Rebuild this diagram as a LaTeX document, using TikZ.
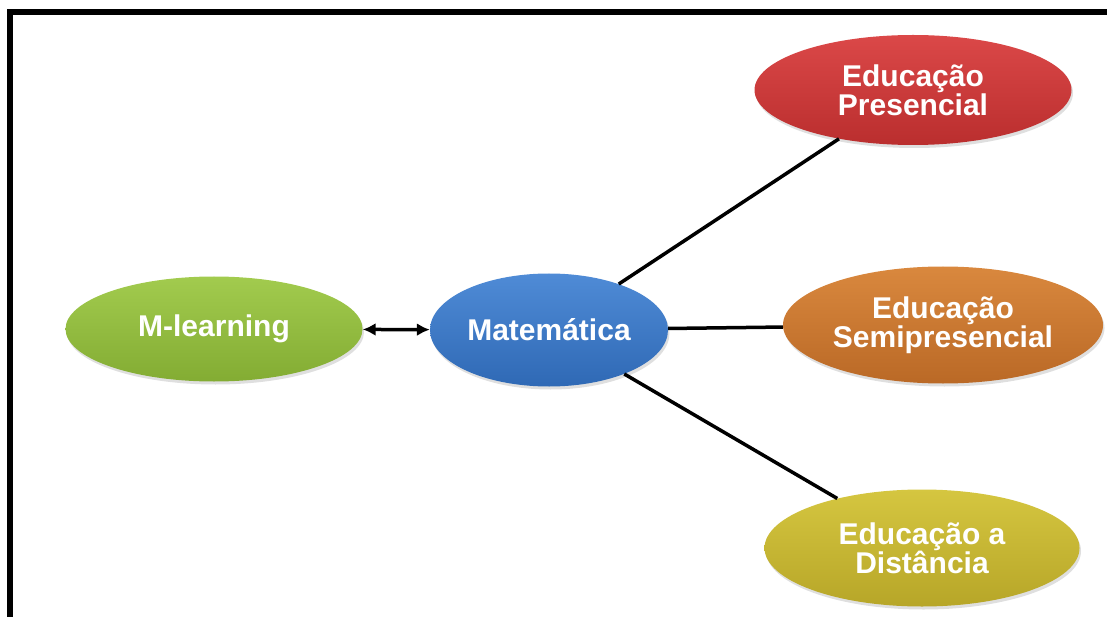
\documentclass[tikz,border=0pt]{standalone}
\usepackage{fontspec}
\setmainfont{Liberation Sans}
\usepackage{xcolor}
\usetikzlibrary{arrows.meta,shapes.geometric,shadows}
\definecolor{limetop}{HTML}{A2CB4E}
\definecolor{limebot}{HTML}{83AC33}
\definecolor{bluetop}{HTML}{4F8BD6}
\definecolor{bluebot}{HTML}{2F69B5}
\definecolor{redtop}{HTML}{DB4848}
\definecolor{redbot}{HTML}{BA2E2E}
\definecolor{orangetop}{HTML}{D9883E}
\definecolor{orangebot}{HTML}{BA6926}
\definecolor{oliventop}{HTML}{D5C640}
\definecolor{olivenbot}{HTML}{B7A628}

\begin{document}
\begin{tikzpicture}[x=1pt,y=-1pt,>=Latex,
  bubble/.style={ellipse,inner sep=0pt,align=center,text=white,
    font=\fontsize{30}{29}\selectfont\bfseries,
    drop shadow={opacity=0.25,shadow xshift=1.5pt,shadow yshift=-3pt}},
  link/.style={line width=3.5pt,color=black}]
  \useasboundingbox (0,0) rectangle (1107,617);
  \draw[line width=6pt] (10,617) -- (10,12) -- (1107,12);
  \node[bubble,minimum width=297pt,minimum height=105pt,top color=limetop,bottom color=limebot] (mlearn) at (214,329) {M-learning};
  \node[bubble,minimum width=238pt,minimum height=113pt,top color=bluetop,bottom color=bluebot] (mat) at (549,330) {Matemática};
  \node[bubble,minimum width=317pt,minimum height=110pt,top color=redtop,bottom color=redbot] (pres) at (913,90) {Educação\\Presencial};
  \node[bubble,minimum width=320pt,minimum height=117pt,top color=orangetop,bottom color=orangebot] (semi) at (943,325) {Educação\\Semipresencial};
  \node[bubble,minimum width=315pt,minimum height=117pt,top color=oliventop,bottom color=olivenbot] (dist) at (922,548) {Educação a\\Distância};
  \draw[link,{Latex[length=13pt,width=13pt]}-{Latex[length=13pt,width=13pt]}] (mlearn) -- (mat);
  \draw[link] (mat) -- (pres);
  \draw[link] (mat) -- (semi);
  \draw[link] (mat) -- (dist);
\end{tikzpicture}
\end{document}
